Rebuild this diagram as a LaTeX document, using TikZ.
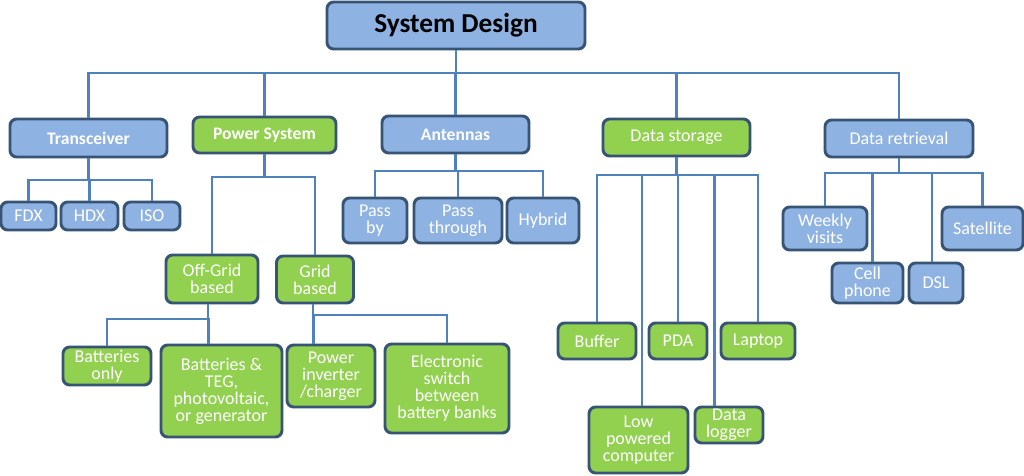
\documentclass[tikz,border=0pt]{standalone}
\usepackage{fontspec}
\setmainfont{Carlito}
\definecolor{bfill}{RGB}{142,178,226}
\definecolor{gfill}{RGB}{146,208,80}
\definecolor{bdark}{RGB}{56,84,116}
\definecolor{lineblue}{RGB}{79,129,189}
\tikzset{
  box/.style={draw=bdark, line width=2.2pt, rounded corners=5pt, align=center, inner sep=1pt,
    text=white, font=\fontsize{13.5}{12.8}\selectfont},
  bbox/.style={box, fill=bfill},
  gbox/.style={box, fill=gfill},
  hbold/.style={font=\fontsize{13.2}{13}\selectfont\bfseries},
  conn/.style={draw=lineblue, line width=2pt},
  sz/.style 2 args={minimum width=#1*0.75pt, minimum height=#2*0.75pt}
}
\begin{document}
\begin{tikzpicture}[x=0.75pt,y=-0.75pt]
\useasboundingbox[fill=white] (0,0) rectangle (1024,475);
% bus coordinates
\coordinate (topbus) at (0,73);
\coordinate (tbus) at (0,180);
\coordinate (pbus) at (0,177);
\coordinate (abus) at (0,171);
\coordinate (sbus) at (0,175);
\coordinate (rbus) at (0,173);
\coordinate (obus) at (0,319);
\coordinate (gbus) at (0,315);

% nodes
\node[bbox, sz={258}{47}, text=black, font=\fontsize{20.5}{20}\selectfont\bfseries] (sys) at (456,25.5) {System Design};

\node[bbox, sz={157}{38}, hbold] (trans) at (88.5,138) {Transceiver};
\node[gbox, sz={143}{36}, hbold] (power) at (264.5,135) {Power System};
\node[bbox, sz={147}{37}, hbold] (ant) at (455.5,134.5) {Antennas};
\node[gbox, sz={147}{37}] (dstor) at (676.5,137.5) {Data storage};
\node[bbox, sz={148}{37}] (dret) at (899,138.5) {Data retrieval};

\node[bbox, sz={55}{28}] (fdx) at (28.5,216) {FDX};
\node[bbox, sz={57}{28}] (hdx) at (89.5,216) {HDX};
\node[bbox, sz={56}{28}] (iso) at (152,216) {ISO};

\node[gbox, sz={92}{48}] (offgrid) at (212,279) {Off-Grid\\based};
\node[gbox, sz={77}{47}] (grid) at (315,279.5) {Grid\\based};

\node[gbox, sz={88}{38}] (batonly) at (107,366) {Batteries\\only};
\node[gbox, sz={121}{92}] (batteg) at (221.5,391) {Batteries \&\\TEG,\\photovoltaic,\\or generator};
\node[gbox, sz={88}{62}] (inverter) at (331,376) {Power\\inverter\\/charger};
\node[gbox, sz={124}{89}] (eswitch) at (447,388.5) {Electronic\\switch\\between\\battery banks};

\node[bbox, sz={64}{45}] (passby) at (375,220.5) {Pass\\by};
\node[bbox, sz={88}{45}] (passthr) at (458,220.5) {Pass\\through};
\node[bbox, sz={72}{45}] (hybrid) at (543,220.5) {Hybrid};

\node[gbox, sz={78}{36}] (buffer) at (597,341) {Buffer};
\node[gbox, sz={58}{36}] (pda) at (678,341) {PDA};
\node[gbox, sz={74}{36}] (laptop) at (758,341) {Laptop};
\node[gbox, sz={99}{66}] (lowpc) at (638.5,440) {Low\\powered\\computer};
\node[gbox, sz={68}{36}] (dlogger) at (729,425) {Data\\logger};

\node[bbox, sz={84}{43}] (weekly) at (825,228.5) {Weekly\\visits};
\node[bbox, sz={81}{43}] (sat) at (982.5,228.5) {Satellite};
\node[bbox, sz={71}{40}] (cell) at (867.5,283) {Cell\\phone};
\node[bbox, sz={54}{40}] (dsl) at (936,283) {DSL};

% connectors
\foreach \c in {trans,power,ant,dstor,dret}
  \draw[conn] (sys.south) -- (sys.south |- topbus) -| (\c.north);
\foreach \c in {fdx,hdx,iso}
  \draw[conn] (trans.south) -- (trans.south |- tbus) -| (\c.north);
\foreach \c in {offgrid,grid}
  \draw[conn] (power.south) -- (power.south |- pbus) -| (\c.north);
\foreach \c in {passby,passthr,hybrid}
  \draw[conn] (ant.south) -- (ant.south |- abus) -| (\c.north);
\foreach \c in {buffer,pda,laptop}
  \draw[conn] (dstor.south) -- (dstor.south |- sbus) -| (\c.north);
\draw[conn] (dstor.south) -- (dstor.south |- sbus) -| ([xshift=2.6pt]lowpc.north);
\draw[conn] (dstor.south) -- (dstor.south |- sbus) -| ([xshift=-11pt]dlogger.north);
\draw[conn] (dret.south) -- (dret.south |- rbus) -| (weekly.north);
\draw[conn] (dret.south) -- (dret.south |- rbus) -| ([xshift=3.5pt]cell.north);
\draw[conn] (dret.south) -- (dret.south |- rbus) -| ([xshift=-3pt]dsl.north);
\draw[conn] (dret.south) -- (dret.south |- rbus) -| (sat.north);
\draw[conn] ([xshift=-3pt]offgrid.south) -- ([xshift=-3pt]offgrid.south |- obus) -| (batonly.north);
\draw[conn] ([xshift=-3pt]offgrid.south) -- ([xshift=-3pt]offgrid.south |- obus) -| ([xshift=-10pt]batteg.north);
\draw[conn] ([xshift=-1.5pt]grid.south) -- ([xshift=-1.5pt]grid.south |- gbus) -| ([xshift=-13pt]inverter.north);
\draw[conn] ([xshift=-1.5pt]grid.south) -- ([xshift=-1.5pt]grid.south |- gbus) -| (eswitch.north);
\end{tikzpicture}
\end{document}
